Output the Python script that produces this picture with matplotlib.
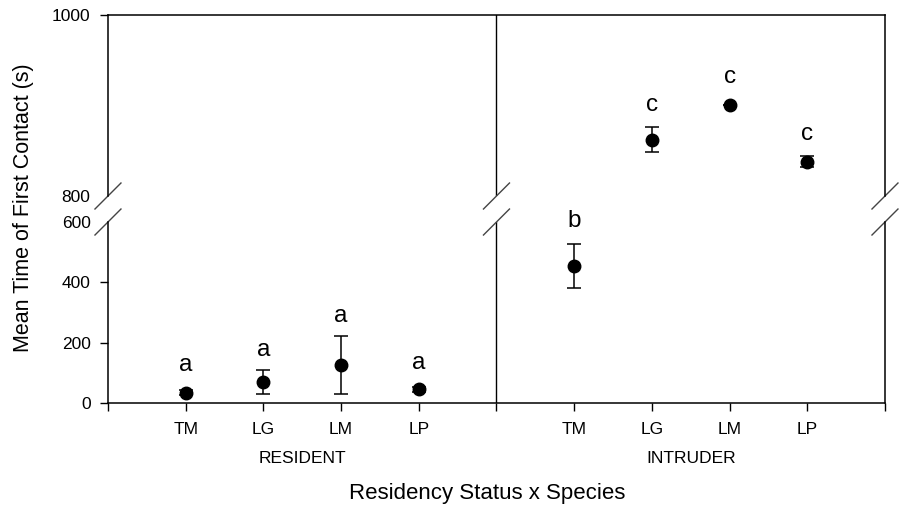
import matplotlib
matplotlib.use("Agg")
import matplotlib.pyplot as plt
import matplotlib.transforms as mtransforms

plt.rcParams["font.family"] = ["Liberation Sans", "DejaVu Sans"]

# Dados
species = ["TM", "LG", "LM", "LP"]
groups = ["RESIDENT", "INTRUDER"]
resident_mean = [35, 71, 127, 46]
resident_err = [9, 39, 97, 7]
intruder_mean = [455, 862, 900, 838]
intruder_err = [73, 14, 0, 6]
resident_letters = ["a", "a", "a", "a"]
intruder_letters = ["b", "c", "c", "c"]
resident_letter_y = [127, 176, 289, 132]
intruder_letter_y = [604, 900, 931, 868]

res_x = [1, 2, 3, 4]
int_x = [6, 7, 8, 9]

fig = plt.figure(figsize=(8.99, 5.07), dpi=100)
ax_lo = fig.add_axes([0.1201, 0.2045, 0.8643, 0.3576])
ax_hi = fig.add_axes([0.1201, 0.6134, 0.8643, 0.3576])

for ax in (ax_lo, ax_hi):
    ax.errorbar(res_x, resident_mean, yerr=resident_err, fmt="o", color="black",
                markersize=9, elinewidth=1.1, capsize=5, capthick=1.1)
    ax.errorbar(int_x, intruder_mean, yerr=intruder_err, fmt="o", color="black",
                markersize=9, elinewidth=1.1, capsize=5, capthick=1.1)
    ax.axvline(5, color="black", lw=1)
    ax.set_xlim(0, 10)
    for s in ax.spines.values():
        s.set_linewidth(1.1)
    ax.tick_params(axis="both", direction="out", length=5.5, width=1, labelsize=12.5)
    ax.tick_params(axis="y", pad=7)

# Eixo inferior
ax_lo.set_ylim(0, 600)
ax_lo.set_yticks([0, 200, 400, 600])
ax_lo.yaxis.get_major_ticks()[-1].tick1line.set_visible(False)
ax_lo.spines["top"].set_visible(False)
ax_lo.set_xticks(range(0, 11))
ax_lo.set_xticklabels([""] + species + [""] + species + [""])
ax_lo.tick_params(axis="x", pad=8)

# Eixo superior
ax_hi.set_ylim(800, 1000)
ax_hi.set_yticks([800, 1000])
ax_hi.yaxis.get_major_ticks()[0].tick1line.set_visible(False)
ax_hi.spines["bottom"].set_visible(False)
ax_hi.set_xticks([])

# Letras de significância
for x, y, t in zip(res_x, resident_letter_y, resident_letters):
    ax_lo.text(x, y, t, ha="center", va="center", fontsize=17.5, clip_on=False)
for x, y, t in zip(int_x, intruder_letter_y, intruder_letters):
    ax = ax_lo if y < 700 else ax_hi
    ax.text(x, y, t, ha="center", va="center", fontsize=17.5, clip_on=False)

# Marcas de quebra do eixo
dx, dy = 13 / 777 * 10, 13 / 181.3
tr_lo = mtransforms.blended_transform_factory(ax_lo.transData, ax_lo.transAxes)
tr_hi = mtransforms.blended_transform_factory(ax_hi.transData, ax_hi.transAxes)
for xb in (0, 5, 10):
    ax_lo.plot([xb - dx, xb + dx], [1 - dy, 1 + dy], color="#444444", lw=1,
               transform=tr_lo, clip_on=False)
    ax_hi.plot([xb - dx, xb + dx], [-dy, dy], color="#444444", lw=1,
               transform=tr_hi, clip_on=False)

# Rótulos dos grupos
ax_lo.text(2.5, -0.302, groups[0], transform=tr_lo, ha="center", va="center", fontsize=12.5)
ax_lo.text(7.5, -0.302, groups[1], transform=tr_lo, ha="center", va="center", fontsize=12.5)

ax_lo.set_xlabel("Residency Status x Species", fontsize=16)
ax_lo.xaxis.set_label_coords(0.488, -0.44)
fig.text(24 / 899, 1 - 207.5 / 507, "Mean Time of First Contact (s)", rotation=90,
         ha="center", va="center", fontsize=15.5)

fig.savefig("out.png", dpi=100)
